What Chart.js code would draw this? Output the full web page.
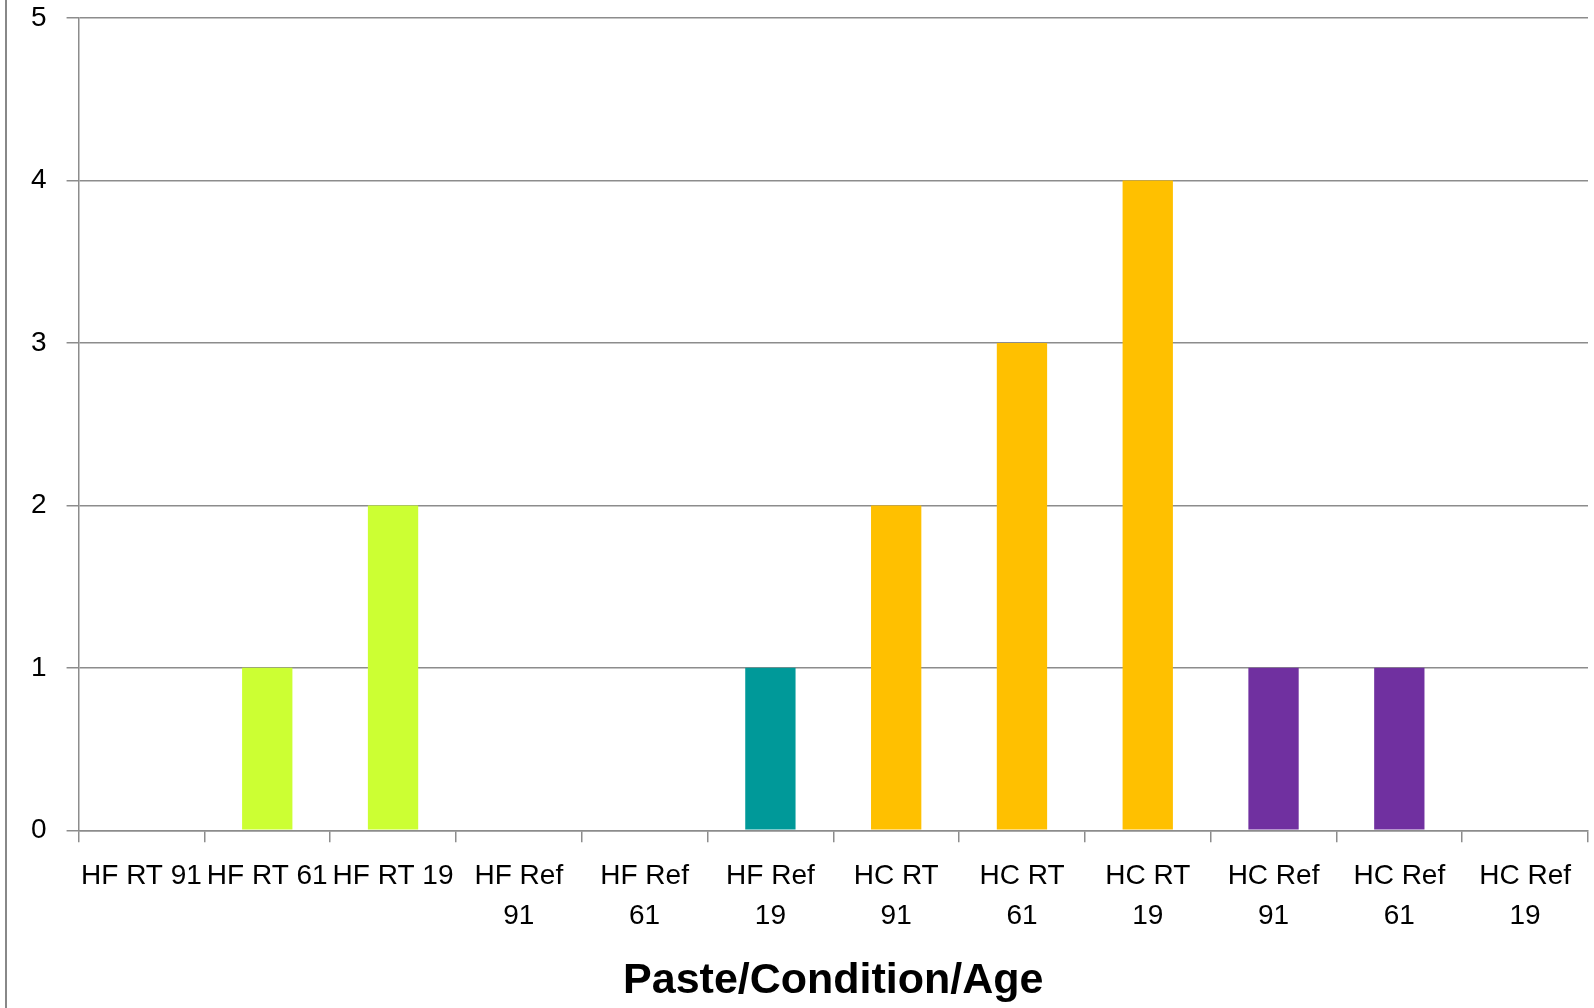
<!DOCTYPE html>
<html>
<head>
<meta charset="utf-8">
<script src="https://cdn.jsdelivr.net/npm/chart.js@4"></script>
<style>
  html, body { margin: 0; padding: 0; background: #fff; }
  #wrap { position: relative; width: 1594px; height: 1008px; }
  #frame { position: absolute; left: 5px; top: 0; width: 0; height: 1008px; border-left: 2px solid #888; }
</style>
</head>
<body>
<div id="wrap">
  <div id="frame"></div>
  <canvas id="countChart"></canvas>
</div>
<script>
// categories (multi-line where the original wraps)
let labels = [
  "HF RT 91", "HF RT 61", "HF RT 19",
  ["HF Ref", "91"], ["HF Ref", "61"], ["HF Ref", "19"],
  ["HC RT", "91"], ["HC RT", "61"], ["HC RT", "19"],
  ["HC Ref", "91"], ["HC Ref", "61"], ["HC Ref", "19"]
];
let counts = [0, 1, 2, 0, 0, 1, 2, 3, 4, 1, 1, 0];
let barColors = [
  "#ccff33", "#ccff33", "#ccff33",
  "#009999", "#009999", "#009999",
  "#ffc000", "#ffc000", "#ffc000",
  "#7030a0", "#7030a0", "#7030a0"
];
let yTicks = [0, 1, 2, 3, 4, 5];
let xTitle = "Paste/Condition/Age";

let gridGray = "#8c8c8c";
let ctx = document.getElementById("countChart");

new Chart(ctx, {
  type: 'bar',
  data: {
    labels: labels,
    datasets: [{
      data: counts,
      backgroundColor: barColors,
      categoryPercentage: 1,
      barPercentage: 0.4
    }]
  },
  options: {
    responsive: true,
    maintainAspectRatio: false,
    animation: false,
    layout: { padding: { left: 11, top: 18, right: 6, bottom: 0 } },
    plugins: {
      legend: { display: false },
      tooltip: { enabled: false }
    },
    scales: {
      x: {
        grid: {
          display: true,
          drawOnChartArea: false,
          drawTicks: true,
          tickLength: 12,
          color: gridGray,
          lineWidth: 1.5
        },
        border: { display: true, color: gridGray, width: 1.5 },
        ticks: {
          autoSkip: false,
          maxRotation: 0,
          minRotation: 0,
          padding: 14,
          color: "#000",
          font: { family: "Liberation Sans", size: 28, lineHeight: 1.43 }
        },
        title: {
          display: true,
          text: xTitle,
          color: "#000",
          padding: { top: 5, bottom: 1 },
          font: { family: "Liberation Sans", size: 43, weight: "bold", lineHeight: 1.2 }
        }
      },
      y: {
        min: 0,
        max: 5,
        afterBuildTicks: (axis) => { axis.ticks = yTicks.map(v => ({ value: v })); },
        afterFit: (axis) => { axis.paddingTop = 0; },
        grid: {
          color: gridGray,
          lineWidth: 1.5,
          tickLength: 12
        },
        border: { display: true, color: gridGray, width: 1.5 },
        ticks: {
          padding: 20,
          color: "#000",
          font: { family: "Liberation Sans", size: 28, lineHeight: 0.5 }
        }
      }
    }
  }
});
</script>
</body>
</html>
